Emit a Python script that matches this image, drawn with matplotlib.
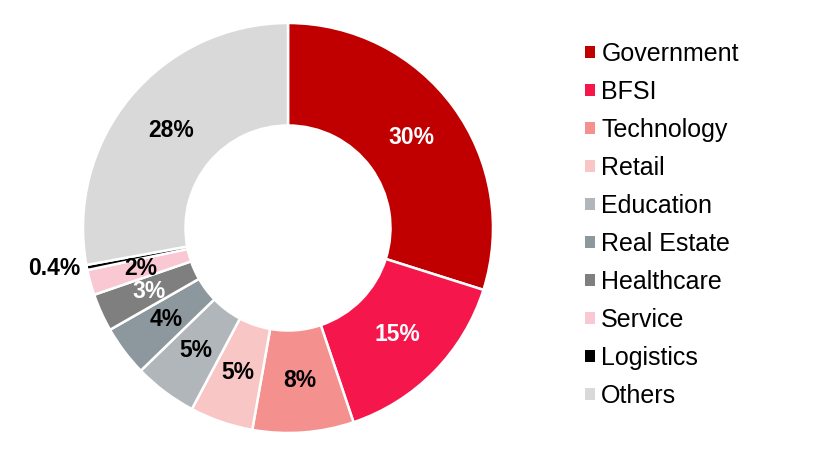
import numpy as np
import matplotlib.pyplot as plt
import matplotlib.patches as mpatches

plt.rcParams['font.family'] = ['Liberation Sans', 'DejaVu Sans']

sectors = ['Government', 'BFSI', 'Technology', 'Retail', 'Education',
           'Real Estate', 'Healthcare', 'Service', 'Logistics', 'Others']
shares = [30, 15, 8, 5, 5, 4, 3, 2, 0.4, 28]
pct_labels = ['30%', '15%', '8%', '5%', '5%', '4%', '3%', '2%', '0.4%', '28%']
colors = ['#C00000', '#F5174B', '#F4918F', '#F8C6C4', '#B1B6BA',
          '#8D979E', '#7F7F7F', '#F9C8D2', '#000000', '#D9D9D9']
text_colors = ['white', 'white', 'black', 'black', 'black',
               'black', 'white', 'black', 'black', 'black']

fig = plt.figure(figsize=(8.3, 4.7), dpi=100)
# donut centre at (288, 228) px, outer radius 205 px
ax = fig.add_axes([(288 - 205) / 830, (470 - 228 - 205) / 470, 410 / 830, 410 / 470])

wedges, _ = ax.pie(shares, colors=colors, startangle=90, counterclock=False,
                   radius=1, wedgeprops=dict(width=0.5, edgecolor='white', linewidth=1.8))
ax.set_xlim(-1, 1)
ax.set_ylim(-1, 1)
ax.set_aspect('equal')
ax.axis('off')

for w, lab, tc in zip(wedges, pct_labels, text_colors):
    mid = np.deg2rad((w.theta1 + w.theta2) / 2)
    if lab == '0.4%':
        r = 1.03
        ax.text(r * np.cos(mid), r * np.sin(mid), lab, ha='right', va='center',
                fontsize=16.5, fontweight='bold', color=tc)
    else:
        r = 0.745
        ax.text(r * np.cos(mid), r * np.sin(mid), lab, ha='center', va='center',
                fontsize=16.5, fontweight='bold', color=tc)

handles = [mpatches.Patch(facecolor=c, edgecolor='none') for c in colors]
fig.legend(handles, sectors, loc='upper left', bbox_to_anchor=(585 / 830, 1 - 42 / 470),
           frameon=False, fontsize=18, handlelength=0.4, handleheight=0.4,
           handletextpad=0.25, labelspacing=0.56, borderaxespad=0, borderpad=0)

fig.savefig('out.png', dpi=100)
